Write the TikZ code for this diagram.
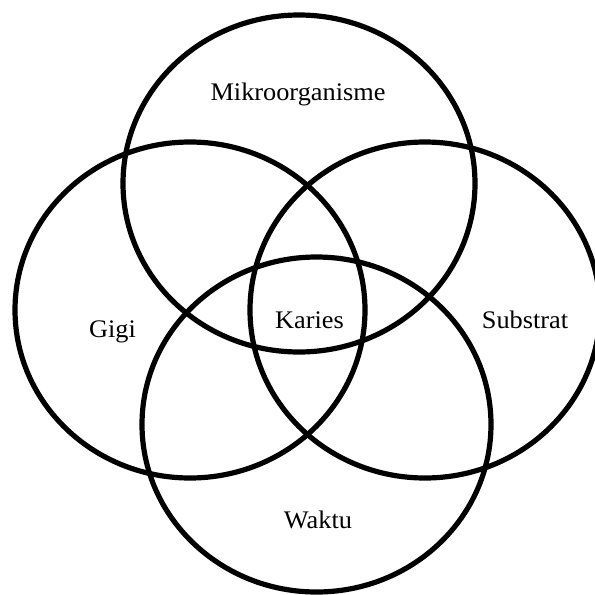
\documentclass[tikz,border=0pt]{standalone}
\usepackage{fontspec}
\setmainfont{Liberation Serif}
\begin{document}
\begin{tikzpicture}[x=1pt,y=-1pt,
  ring/.style={draw=black,line width=5.2pt},
  lbl/.style={inner sep=0pt,anchor=base,font=\fontsize{25.3}{30}\selectfont,transform shape,xscale=1.04}]
\useasboundingbox (0,0) rectangle (595,595);
\draw[ring] (299,183.5) ellipse [x radius=176pt, y radius=168.5pt];
\draw[ring] (190,310) ellipse [x radius=175pt, y radius=168pt];
\draw[ring] (425,310) ellipse [x radius=175pt, y radius=168pt];
\draw[ring] (316.5,424.5) ellipse [x radius=174.5pt, y radius=167.5pt];
\node[lbl] (mikro) at (298,100.7) {Mikroorganisme};
\node[lbl] (karies) at (309.5,328) {Karies};
\node[lbl] (gigi) at (112.5,337) {Gigi};
\node[lbl] (substrat) at (525,328) {Substrat};
\node[lbl] (waktu) at (318,528) {Waktu};
\end{tikzpicture}
\end{document}
